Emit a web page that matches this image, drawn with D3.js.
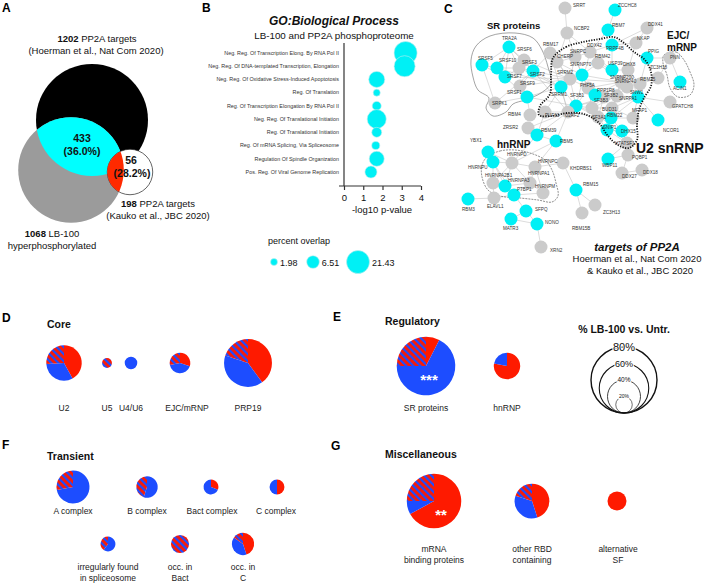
<!DOCTYPE html>
<html>
<head>
<meta charset="utf-8">
<script src="https://cdn.jsdelivr.net/npm/d3@7"></script>
<style>
  body { margin: 0; background: #fff; }
  svg { font-family: "Liberation Sans", Arial, Helvetica, sans-serif; }
</style>
</head>
<body>
<div id="fig"></div>
<script>
// ---------- data ----------
// A: Venn
const vennSizes = [1202, 1068, 198]            // Hoerman, LB-100, Kauko
const overlapCounts = [433, 56]
const overlapPct = ["(36.0%)", "(28.2%)"]

// B: GO bubble plot
const goTerms = [
  "Neg. Reg. Of Transcription Elong. By RNA Pol II",
  "Neg. Reg. Of DNA-templated Transcription, Elongation",
  "Neg. Reg. Of Oxidative Stress-Induced Apoptotosis",
  "Reg. Of Translation",
  "Reg. Of Transcription Elongation By RNA Pol II",
  "Neg. Reg. Of Translational Initiation",
  "Reg. Of Translational Initiation",
  "Reg. Of mRNA Splicing, Via Spliceosome",
  "Regulation Of Spindle Organization",
  "Pos. Reg. Of Viral Genome Replication"
]
const goLogP = [3.2, 3.15, 1.7, 1.7, 1.7, 1.7, 1.7, 1.65, 1.7, 1.4]
const goOverlap = [21.43, 17.9, 10.4, 2.0, 3.3, 14.7, 4.0, 2.6, 9.1, 5.9]
const overlapLegend = [1.98, 6.51, 21.43]
const xTicks = [0, 1, 2, 3, 4]

// D-G: pies, split = [red, blue, hatched] fractions
const coreNames = ["U2", "U5", "U4/U6", "EJC/mRNP", "PRP19"]
const corePct = [43, 12, 15, 25, 58]
const coreSplit = [[0.42, 0.32, 0.26], [0, 0, 1], [0, 1, 0], [0.3, 0.42, 0.28], [0.4, 0.4, 0.2]]

const regNames = ["SR proteins", "hnRNP"]
const regPct = [71, 32]
const regSplit = [[0.075, 0.675, 0.25], [0.78, 0.22, 0]]

const transNames = ["A complex", "B complex", "Bact complex", "C complex",
  "irregularly found\nin spliceosome", "occ. in\nBact", "occ. in\nC"]
const transPct = [40, 26, 18, 18, 18, 22, 27]
const transSplit = [[0, 0.72, 0.28], [0, 0.55, 0.45], [0.31, 0.69, 0], [0.5, 0.5, 0],
  [0, 0.6, 0.4], [0, 0, 1], [0.45, 0.4, 0.15]]

const miscNames = ["mRNA\nbinding proteins", "other RBD\ncontaining", "alternative\nSF"]
const miscPct = [66, 42, 23]
const miscSplit = [[0.67, 0.08, 0.25], [0.45, 0.35, 0.2], [1, 0, 0]]

const sizeLegend = [80, 60, 40, 20]

// C: network (name, c = PP2A target / g = other, layout x, y, label dx, dy)
const netNodes = [
  ["SRRT","g",565,8,8,-1], ["ZCCHC8","c",615,10,3,-3], ["NCBP2","g",567,33,7,-3],
  ["RBM7","c",608,30,4,-3], ["DDX41","g",647,28,1,-2], ["NKAP","g",636,43,1,-3],
  ["RBM17","g",550,53,-7,-7], ["TRA2A","c",509,47,-7,-7], ["SRSF6","g",524,60,-7,-9],
  ["SRSF5","c",482,65,-4,-5], ["SRSF10","c",497,68,2,-6], ["SRSF3","g",519,68,3,-4],
  ["SRSF7","c",505,77,2,1], ["SRSF2","c",533,71,-3,5], ["SRSF9","g",520,86,0,-1],
  ["SRSF1","c",527,97,-20,-3], ["SRPK1","g",495,103,-3,2],
  ["PRPF4B","c",612,45,-6,5], ["DDX42","g",590,52,-3,-5], ["SNRPC","g",575,57,-5,-4],
  ["CHERP","g",557,62,0,-4], ["RBM42","g",598,63,-3,-5], ["SNRNP70","c",582,75,-12,-9],
  ["USP39","c",612,70,-4,-5], ["DHX8","g",628,70,-5,-4], ["SRRM2","g",570,79,-13,-5],
  ["SRRM1","c",561,87,-10,9], ["SNRNP200","g",621,82,-11,-3], ["RBM25","g",640,84,0,-3],
  ["ZC3H18","g",658,78,-8,-9], ["PPIG","c",647,58,1,-5], ["PNN","g",670,58,0,1],
  ["ACIN1","c",680,82,-7,8], ["GPATCH8","g",670,102,2,6], ["NCOR1","c",658,120,5,12],
  ["PHF5A","g",588,88,-8,-1], ["SF3B2","g",604,97,0,0], ["SNRPA1","g",617,96,2,4],
  ["SF3B1","c",576,106,-6,-9], ["PPP1R8","c",595,95,2,-3], ["SF3B3","g",592,108,2,-6],
  ["SNRNP40","g",627,87,-12,-4], ["SNW1","c",638,97,-8,-3], ["BUD31","g",612,108,-10,3],
  ["SF3A1","g",598,117,-6,2], ["RBM22","c",611,118,-4,-1], ["MFAP1","g",633,118,-1,-6],
  ["SNIP1","c",607,130,-4,-1], ["DHX15","c",622,131,-1,2], ["HTATSF1","g",627,143,-12,2],
  ["PUF60","g",545,112,0,5], ["U2AF2","g",568,112,-3,5], ["RBM4","g",530,115,-22,1],
  ["ZRSR2","g",528,128,-25,1], ["RBM39","c",537,135,4,-3], ["RBM5","c",556,141,4,2],
  ["YBX1","c",488,152,-18,-10], ["HNRNPU","c",493,162,-25,7], ["HNRNPD","g",512,163,-5,-7],
  ["HNRNPC","g",535,167,3,-4], ["KHDRBS1","g",563,163,7,7], ["HNRNPA1","g",530,183,-2,-8],
  ["HNRNPA2B1","g",493,183,-8,-6], ["HNRNPA3","c",505,186,3,-4], ["HNRNPM","g",543,193,-8,-5],
  ["PTBP1","c",514,195,3,-4], ["RBM3","c",468,199,-6,12], ["ELAVL1","g",494,198,-7,10],
  ["SFPQ","c",526,211,9,0], ["MATR3","c",511,219,-8,11], ["NONO","c",537,224,8,0],
  ["XRN2","g",541,247,9,5], ["RBM15","c",576,190,7,-4], ["ZC3H13","g",595,205,8,9],
  ["RBM15B","g",582,213,-10,17], ["WBP11","c",608,159,-6,8], ["PQBP1","g",628,155,4,4],
  ["DDX27","g",622,173,0,5], ["DDX18","g",642,170,1,4]
]
const netEdges = [
  ["SRRT","NCBP2"],["NCBP2","SNRPC"],["NCBP2","CHERP"],["NCBP2","DDX42"],["ZCCHC8","RBM7"],
  ["RBM7","DDX42"],["RBM17","CHERP"],["RBM17","SRRM2"],["RBM17","U2AF2"],["RBM17","SRSF2"],
  ["DDX41","NKAP"],["DDX41","PRPF4B"],["NKAP","DHX8"],["NKAP","PRPF4B"],
  ["TRA2A","SRSF5"],["TRA2A","SRSF10"],["TRA2A","SRSF3"],["TRA2A","SRSF7"],["TRA2A","SRSF2"],
  ["TRA2A","SRSF6"],["SRSF5","SRSF10"],["SRSF5","SRSF7"],["SRSF10","SRSF3"],["SRSF10","SRSF7"],
  ["SRSF3","SRSF2"],["SRSF3","SRSF7"],["SRSF6","SRSF2"],["SRSF2","SRSF9"],["SRSF7","SRSF1"],
  ["SRSF9","SRSF1"],["SRSF1","SRPK1"],["SRSF2","SRRM2"],["SRSF2","SRRM1"],["SRSF3","SRRM1"],
  ["SRSF1","SRRM1"],["SRSF9","SRRM2"],["SRSF6","SRRM2"],["SRSF5","SRPK1"],["SRSF2","SRPK1"],
  ["SRSF1","SF3B1"],["SRSF2","U2AF2"],["SRSF7","SRRM2"],["SRSF10","SRRM1"],
  ["CHERP","SNRPC"],["CHERP","SRRM2"],["CHERP","SNRNP70"],["SNRPC","DDX42"],["SNRPC","SNRNP70"],
  ["SNRPC","SRRM2"],["DDX42","RBM42"],["DDX42","PRPF4B"],["DDX42","USP39"],["DDX42","SF3B1"],
  ["RBM42","SNRNP70"],["RBM42","USP39"],["RBM42","SNRNP200"],["USP39","DHX8"],["USP39","SNRNP200"],
  ["USP39","PRPF4B"],["DHX8","SNRNP200"],["DHX8","RBM25"],["DHX8","SNW1"],["SNRNP70","SRRM2"],
  ["SNRNP70","SRRM1"],["SNRNP70","PHF5A"],["SNRNP70","SNRNP200"],["SRRM2","SRRM1"],["SRRM2","PHF5A"],
  ["SRRM2","SF3B1"],["SRRM2","SNRNP200"],["SRRM1","SF3B1"],["SRRM1","PUF60"],["SRRM1","U2AF2"],
  ["SNRNP200","SNRNP40"],["SNRNP200","SNW1"],["SNRNP200","PPP1R8"],["SNRNP200","PHF5A"],
  ["SNRNP200","BUD31"],["SNRNP200","RBM22"],["RBM25","SNW1"],["RBM25","ZC3H18"],["RBM25","PPIG"],
  ["PPIG","PNN"],["PNN","ACIN1"],["ZC3H18","PNN"],["PHF5A","SF3B1"],["PHF5A","SF3B3"],
  ["PHF5A","PPP1R8"],["PHF5A","SF3B2"],["SF3B1","SF3B3"],["SF3B1","SF3B2"],["SF3B1","U2AF2"],
  ["SF3B1","SF3A1"],["SF3B1","RBM22"],["SF3B1","SNRPA1"],["SF3B3","SF3B2"],["SF3B3","SF3A1"],
  ["SF3B3","BUD31"],["SF3B2","SF3A1"],["SNRPA1","SF3B3"],["SNRPA1","BUD31"],["SNRPA1","SNW1"],
  ["SNRNP40","SNW1"],["SNRNP40","PPP1R8"],["SNW1","MFAP1"],["SNW1","RBM22"],["SNW1","BUD31"],
  ["BUD31","RBM22"],["BUD31","MFAP1"],["RBM22","SNIP1"],["RBM22","DHX15"],["RBM22","MFAP1"],
  ["SNIP1","DHX15"],["SNIP1","HTATSF1"],["DHX15","HTATSF1"],["SF3A1","U2AF2"],["SF3A1","SNIP1"],
  ["U2AF2","PUF60"],["U2AF2","RBM39"],["U2AF2","RBM5"],["PUF60","RBM39"],["RBM4","SRSF1"],
  ["ZRSR2","U2AF2"],["ZRSR2","RBM39"],["RBM39","RBM5"],["NCOR1","SNW1"],["GPATCH8","SNW1"],
  ["PPP1R8","SF3B2"],["SNRNP40","SF3B2"],["USP39","SNRNP40"],["SNRPC","PHF5A"],["HTATSF1","SF3B3"],
  ["YBX1","HNRNPD"],["YBX1","HNRNPU"],["HNRNPU","HNRNPD"],["HNRNPU","HNRNPA2B1"],["HNRNPU","HNRNPA3"],
  ["HNRNPU","PTBP1"],["HNRNPD","HNRNPA2B1"],["HNRNPD","HNRNPA3"],["HNRNPD","HNRNPC"],["HNRNPD","HNRNPA1"],
  ["HNRNPC","HNRNPA1"],["HNRNPC","HNRNPM"],["HNRNPA1","HNRNPA3"],["HNRNPA1","HNRNPM"],["HNRNPA1","PTBP1"],
  ["HNRNPA2B1","HNRNPA3"],["HNRNPA2B1","PTBP1"],["HNRNPA3","PTBP1"],["HNRNPM","PTBP1"],["PTBP1","SFPQ"],
  ["PTBP1","ELAVL1"],["ELAVL1","RBM3"],["ELAVL1","HNRNPA2B1"],["SFPQ","NONO"],["SFPQ","MATR3"],
  ["MATR3","NONO"],["NONO","XRN2"],["HNRNPC","KHDRBS1"],["KHDRBS1","RBM15"],["RBM15","ZC3H13"],
  ["RBM15","RBM15B"],["HNRNPD","RBM5"],["HNRNPC","RBM5"],["HNRNPD","RBM39"],["WBP11","PQBP1"],
  ["PQBP1","DDX27"],["DDX27","DDX18"],["WBP11","HTATSF1"]
]
const hullSR = [[490,36],[515,33],[533,38],[542,50],[548,67],[551,83],[541,93],[525,100],[513,104],[506,112],[493,116],[486,108],[489,98],[478,90],[473,77],[471,60],[476,46]]
const hullU2 = [[553,58],[566,47],[583,42],[600,39],[614,37],[624,43],[634,52],[645,60],[651,72],[651,86],[644,98],[639,110],[637,125],[637,140],[629,148],[618,145],[608,136],[598,122],[584,114],[567,113],[552,116],[539,115],[540,106],[550,94],[551,75]]
const hullHN = [[487,157],[500,151],[515,150],[530,153],[545,160],[552,170],[556,183],[558,196],[552,202],[538,200],[520,198],[500,196],[488,190],[482,177],[482,165]]
const hullEJC = [[664,55],[676,52],[684,60],[690,72],[694,85],[690,95],[678,97],[670,88],[667,75],[663,63]]

// ---------- drawing ----------
const W = 705, H = 584
const RED = "#fe1a00", BLUE = "#1d4dff", CYAN = "#00f0f5"
const svg = d3.select("#fig").append("svg").attr("width", W).attr("height", H)
const defs = svg.append("defs")

// hatch pattern: red with blue diagonal stripes
const pat = defs.append("pattern").attr("id", "hatch").attr("patternUnits", "userSpaceOnUse")
  .attr("width", 5).attr("height", 5).attr("patternTransform", "rotate(-45)")
pat.append("rect").attr("width", 5).attr("height", 5).attr("fill", RED)
pat.append("rect").attr("width", 2.2).attr("height", 5).attr("fill", BLUE)

function panelLetter(t, x, y) {
  svg.append("text").attr("x", x).attr("y", y).attr("font-size", 12).attr("font-weight", "bold").text(t)
}
function txt(g, x, y, t, size, opts = {}) {
  return g.append("text").attr("x", x).attr("y", y).attr("font-size", size)
    .attr("text-anchor", opts.anchor || "middle")
    .attr("font-weight", opts.bold ? "bold" : null)
    .attr("font-style", opts.italic ? "italic" : null)
    .attr("fill", opts.fill || "#111").text(t)
}

// ===== A: Venn =====
{
  const g = svg.append("g")
  const r = d3.scaleSqrt().domain([0, vennSizes[0]]).range([0, 56])
  const cH = [92, 120], cL = [71, 170], cK = [130, 172]
  const rH = r(vennSizes[0]), rL = r(vennSizes[1]), rK = r(vennSizes[2])
  defs.append("clipPath").attr("id", "clipH").append("circle").attr("cx", cH[0]).attr("cy", cH[1]).attr("r", rH)
  defs.append("clipPath").attr("id", "clipK").append("circle").attr("cx", cK[0]).attr("cy", cK[1]).attr("r", rK)
  g.append("circle").attr("cx", cH[0]).attr("cy", cH[1]).attr("r", rH).attr("fill", "#000")
  g.append("circle").attr("cx", cL[0]).attr("cy", cL[1]).attr("r", rL).attr("fill", "#9b9b9b")
  g.append("circle").attr("cx", cL[0]).attr("cy", cL[1]).attr("r", rL).attr("fill", "#00ffff").attr("clip-path", "url(#clipH)")
  g.append("circle").attr("cx", cK[0]).attr("cy", cK[1]).attr("r", rK).attr("fill", "#fff").attr("stroke", "#222").attr("stroke-width", 0.7)
  g.append("circle").attr("cx", cL[0]).attr("cy", cL[1]).attr("r", rL).attr("fill", "#ff2a00").attr("clip-path", "url(#clipK)")

  const t1 = txt(g, 97, 42, "", 9.5)
  t1.append("tspan").attr("font-weight", "bold").text(vennSizes[0])
  t1.append("tspan").text(" PP2A targets")
  txt(g, 96, 54, "(Hoerman et al., Nat Com 2020)", 9.5)
  txt(g, 82, 142, overlapCounts[0], 10.5, { bold: true })
  txt(g, 82, 155, overlapPct[0], 10.5, { bold: true })
  txt(g, 131, 164, overlapCounts[1], 10.5, { bold: true })
  txt(g, 132, 177, overlapPct[1], 10.5, { bold: true })
  const t2 = txt(g, 158, 207, "", 9.5)
  t2.append("tspan").attr("font-weight", "bold").text(vennSizes[2])
  t2.append("tspan").text(" PP2A targets")
  txt(g, 158, 219, "(Kauko et al., JBC 2020)", 9.5)
  const t3 = txt(g, 52, 237, "", 9.5)
  t3.append("tspan").attr("font-weight", "bold").text(vennSizes[1])
  t3.append("tspan").text(" LB-100")
  txt(g, 52, 249, "hyperphosphorylated", 9.5)
  panelLetter("A", 2, 12)
}

// ===== B: GO bubbles =====
{
  const g = svg.append("g")
  const x = d3.scaleLinear().domain([0, 4]).range([344, 421])
  const y = d3.scalePoint().domain(goTerms).range([53, 172])
  const r = d3.scaleSqrt().domain([0, 21.43]).range([0, 11.5])

  txt(g, 334, 25, "GO:Biological Process", 12, { bold: true, italic: true })
  txt(g, 334, 39, "LB-100 and PP2A phosphoproteome", 9.8)

  g.append("g").selectAll("text").data(goTerms).join("text")
    .attr("x", 339).attr("y", d => y(d) + 1.8).attr("text-anchor", "end")
    .attr("font-size", 5.4).attr("fill", "#333").text(d => d)

  const xa = g.append("g").attr("transform", "translate(0,186)")
    .call(d3.axisBottom(x).tickValues(xTicks).tickFormat(d3.format("d")).tickSize(4).tickSizeOuter(0))
  xa.select(".domain").attr("d", "M339,0H421").attr("stroke", "#333").attr("stroke-width", 1.2)
  xa.selectAll(".tick line").attr("stroke", "#333").attr("stroke-width", 1.2)
  xa.selectAll(".tick text").attr("font-size", 9.5).attr("fill", "#111").attr("dy", "0.85em")
    .attr("font-family", "Liberation Sans, Arial, sans-serif")
  g.append("line").attr("x1", 344).attr("x2", 344).attr("y1", 43).attr("y2", 186)
    .attr("stroke", "#333").attr("stroke-width", 1.2)

  txt(g, 382, 213, "-log10 p-value", 9.5)

  g.append("g").selectAll("circle").data(goTerms).join("circle")
    .attr("cx", (d, i) => x(goLogP[i])).attr("cy", d => y(d))
    .attr("r", (d, i) => r(goOverlap[i]))
    .attr("fill", CYAN).attr("stroke", "#bfecef").attr("stroke-width", 0.6)

  txt(g, 268, 244, "percent overlap", 9, { anchor: "start" })
  const lx = [274, 313, 358]
  overlapLegend.forEach((v, i) => {
    g.append("circle").attr("cx", lx[i]).attr("cy", 262).attr("r", r(v))
      .attr("fill", CYAN).attr("stroke", "#bfecef").attr("stroke-width", 0.6)
    txt(g, lx[i] + r(v) + 2.5, 265.5, v, 9, { anchor: "start" })
  })
  panelLetter("B", 202, 12)
}

// ===== C: network =====
{
  const g = svg.append("g")
  const pos = new Map(netNodes.map(d => [d[0], d]))
  const hull = d3.line().curve(d3.curveCatmullRomClosed.alpha(0.5))

  g.append("g").selectAll("line").data(netEdges.filter(e => pos.has(e[0]) && pos.has(e[1]))).join("line")
    .attr("x1", e => pos.get(e[0])[2]).attr("y1", e => pos.get(e[0])[3])
    .attr("x2", e => pos.get(e[1])[2]).attr("y2", e => pos.get(e[1])[3])
    .attr("stroke", "#b9b9b9").attr("stroke-width", 0.5)

  g.append("path").attr("d", hull(hullSR)).attr("fill", "none").attr("stroke", "#666").attr("stroke-width", 0.6)
  g.append("path").attr("d", hull(hullHN)).attr("fill", "none").attr("stroke", "#444").attr("stroke-width", 0.6).attr("stroke-dasharray", "2,1")
  g.append("path").attr("d", hull(hullEJC)).attr("fill", "none").attr("stroke", "#444").attr("stroke-width", 0.6).attr("stroke-dasharray", "2,1")

  g.append("g").selectAll("circle").data(netNodes).join("circle")
    .attr("cx", d => d[2]).attr("cy", d => d[3]).attr("r", 6.5)
    .attr("fill", d => d[1] === "c" ? CYAN : "#cbcbcb")

  g.append("path").attr("d", hull(hullU2)).attr("fill", "none").attr("stroke", "#111")
    .attr("stroke-width", 1.8).attr("stroke-dasharray", "1.2,1.4")

  g.append("g").selectAll("text").data(netNodes).join("text")
    .attr("x", d => d[2] + d[4]).attr("y", d => d[3] + d[5])
    .attr("font-size", 4.6).attr("fill", "#333").text(d => d[0])

  txt(g, 487, 29, "SR proteins", 9.5, { bold: true, anchor: "start" })
  txt(g, 667, 39, "EJC/", 10, { bold: true, anchor: "start" })
  txt(g, 667, 51, "mRNP", 10, { bold: true, anchor: "start" })
  txt(g, 497, 148, "hnRNP", 10, { bold: true, anchor: "start" })
  txt(g, 636, 153, "U2 snRNP", 14, { bold: true, anchor: "start" })
  txt(g, 637, 251, "targets of PP2A", 11.5, { bold: true, italic: true })
  txt(g, 637, 262, "Hoerman et al., Nat Com 2020", 9.5)
  txt(g, 640, 274, "& Kauko et al., JBC 2020", 9.5)
  panelLetter("C", 444, 13)
}

// ===== D-G: pies =====
const rPie = d3.scaleLinear().domain([0, 80]).range([0, 33])
const pieGen = d3.pie().sort(null).value(d => d)
const fills = [RED, BLUE, "url(#hatch)"]

function drawPies(names, pct, split, xs, ys, labelXs, labelYs) {
  const g = svg.append("g")
  names.forEach((name, i) => {
    const R = rPie(pct[i])
    const arc = d3.arc().innerRadius(0).outerRadius(R)
    const pg = g.append("g").attr("transform", `translate(${xs[i]},${ys[i]})`)
    pg.selectAll("path").data(pieGen(split[i]).filter(a => a.value > 0)).join("path")
      .attr("d", arc).attr("fill", a => fills[a.index])
    name.split("\n").forEach((line, k) => {
      txt(g, labelXs[i], labelYs[i] + k * 10.5, line, 8.5, { fill: "#222" })
    })
  })
}

// D
panelLetter("D", 2, 322)
txt(svg, 47, 328, "Core", 10.5, { bold: true, anchor: "start" })
drawPies(coreNames, corePct, coreSplit, [64, 107, 131, 180, 248], [363, 363, 363, 363, 363],
  [64, 107, 131, 187, 248], [411, 411, 411, 411, 411])

// E
panelLetter("E", 333, 321)
txt(svg, 385, 325, "Regulatory", 10.5, { bold: true, anchor: "start" })
drawPies(regNames, regPct, regSplit, [426, 507], [366, 366], [426, 507], [411, 411])
txt(svg, 429, 385, "***", 15, { bold: true, fill: "#fff" })

// size legend
{
  const g = svg.append("g")
  txt(g, 624, 333, "% LB-100 vs. Untr.", 10.5, { bold: true })
  const base = 413, cx = 624
  const sw = [1.4, 1.1, 0.8, 0.6], fs = [11, 9, 6.5, 5]
  sizeLegend.forEach((v, i) => {
    g.append("circle").attr("cx", cx).attr("cy", base - rPie(v)).attr("r", rPie(v))
      .attr("fill", "none").attr("stroke", "#111").attr("stroke-width", sw[i])
  })
  sizeLegend.forEach((v, i) => {
    g.append("text").attr("x", cx).attr("y", base - 2 * rPie(v) + fs[i] * 0.38)
      .attr("text-anchor", "middle").attr("font-size", fs[i]).attr("fill", "#111")
      .attr("stroke", "#fff").attr("stroke-width", 2.2).attr("paint-order", "stroke")
      .text(v + "%")
  })
}

// F
panelLetter("F", 2, 449)
txt(svg, 47, 460, "Transient", 10.5, { bold: true, anchor: "start" })
drawPies(transNames, transPct, transSplit,
  [73, 147, 211, 277, 108, 180, 243], [487, 487, 487, 487, 544, 544, 544],
  [73, 147, 212, 276, 108, 180, 243], [514, 514, 514, 514, 570, 570, 570])

// G
panelLetter("G", 331, 450)
txt(svg, 385, 458, "Miscellaneous", 10.5, { bold: true, anchor: "start" })
drawPies(miscNames, miscPct, miscSplit, [434, 532, 617], [501, 501, 501], [434, 532, 618], [552, 552, 552])
txt(svg, 441, 520, "**", 15, { bold: true, fill: "#fff" })
</script>
</body>
</html>
